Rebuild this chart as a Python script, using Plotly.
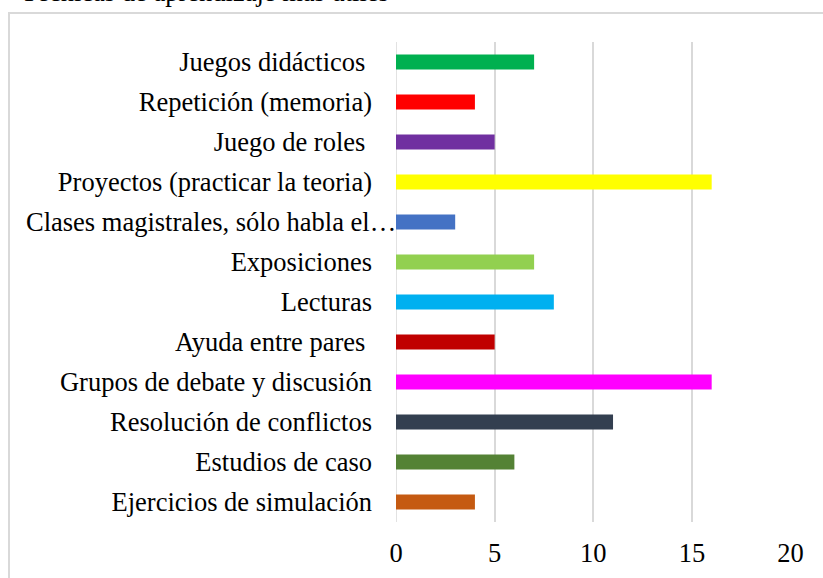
import plotly.graph_objects as go

categories = [
    "Ejercicios de simulación",
    "Estudios de caso",
    "Resolución de conflictos",
    "Grupos de debate y discusión",
    "Ayuda entre pares\u00a0",
    "Lecturas",
    "Exposiciones",
    "Clases magistrales, sólo habla el…",
    "Proyectos (practicar la teoria)",
    "Juego de roles\u00a0",
    "Repetición (memoria)",
    "Juegos didácticos\u00a0",
]
values = [4, 6, 11, 16, 5, 8, 7, 3, 16, 5, 4, 7]
colors = ["#C55A11", "#548235", "#333F50", "#FF00FF", "#C00000", "#00B0F0",
          "#92D050", "#4472C4", "#FFFF00", "#7030A0", "#FF0000", "#00B050"]
x_ticks = [0, 5, 10, 15, 20]
title_text = "Técnicas de aprendizaje más útiles"
truncated_label = "Clases magistrales, sólo habla el…"

W, H = 823, 578
L, R, T, B = 396, 32, 42, 56
pw, ph = W - L - R, H - T - B

def px(x):
    return (x - L) / pw

def py(y):
    return (H - B - y) / ph

FS = 26.5

ticktext = ["" if c == truncated_label else c for c in categories]

fig = go.Figure(go.Bar(
    x=values, y=categories, orientation="h",
    marker=dict(color=colors, line=dict(width=0)),
    width=0.37, hoverinfo="x+y",
))

fig.update_layout(
    width=W, height=H,
    margin=dict(l=L, r=R, t=T, b=B, autoexpand=False),
    paper_bgcolor="white", plot_bgcolor="white",
    font=dict(family="Liberation Serif, Times New Roman, serif", size=FS, color="#000000"),
    showlegend=False,
    xaxis=dict(range=[0, 20.02], tickvals=x_ticks, showgrid=True, gridcolor="#d9d9d9",
               gridwidth=1.5, zeroline=False, showline=False, ticks="",
               ticklabelstandoff=12, fixedrange=True),
    yaxis=dict(showgrid=False, showline=False, ticks="", ticklabelstandoff=23,
               range=[-0.5, 11.5], tickvals=categories, ticktext=ticktext),
    shapes=[
        dict(type="line", xref="x", yref="paper", x0=0, x1=0, y0=0, y1=1,
             line=dict(color="#d9d9d9", width=1.5), layer="below"),
        dict(type="rect", xref="paper", yref="paper",
             x0=px(9), x1=px(830), y0=py(590), y1=py(13),
             line=dict(color="#d9d9d9", width=2), fillcolor="rgba(0,0,0,0)"),
    ],
    annotations=[
        dict(text=title_text, xref="paper", yref="paper", x=px(19), y=py(9),
             xanchor="left", yanchor="bottom", showarrow=False,
             font=dict(size=FS, color="#000000")),
        dict(text=truncated_label, xref="paper", yref="y", x=px(398), y=truncated_label,
             xanchor="right", yanchor="middle", showarrow=False,
             font=dict(size=FS, color="#000000")),
    ],
)

fig.write_html("out.html", config={"displayModeBar": False},
               post_script="document.body.style.margin='0';")
